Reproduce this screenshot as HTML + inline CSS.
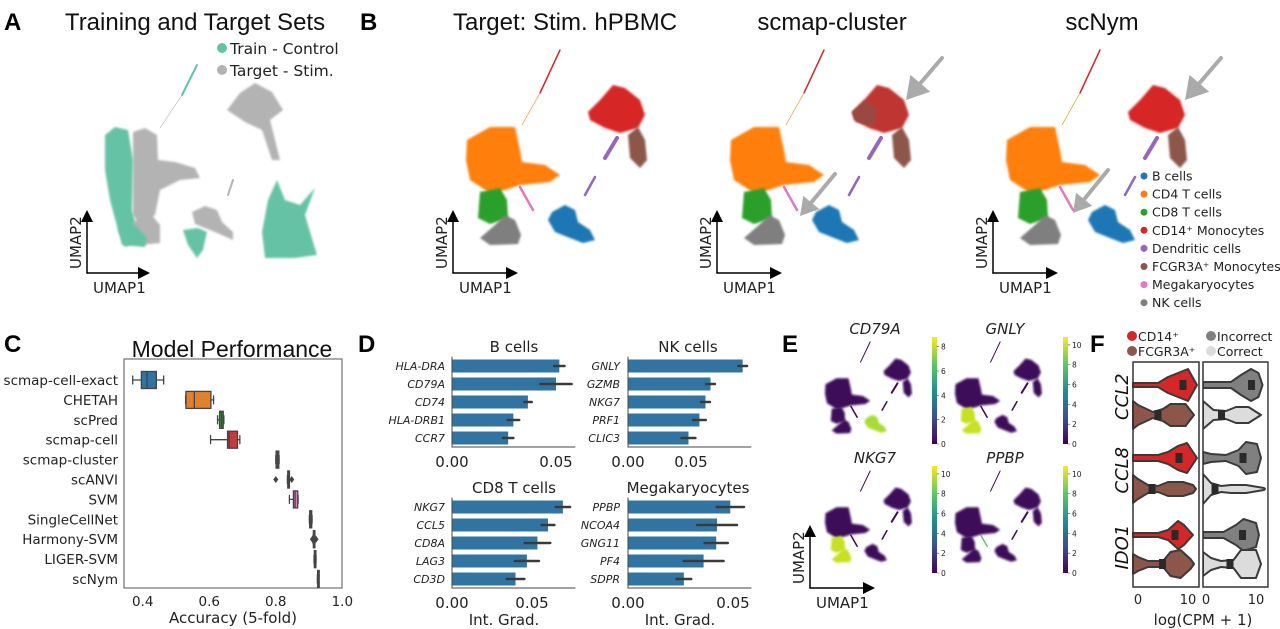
<!DOCTYPE html>
<html><head><meta charset="utf-8"><title>scNym figure</title>
<style>
body{margin:0;background:#fff;}
svg{display:block;font-family:"DejaVu Sans","Liberation Sans",sans-serif;}
</style></head>
<body>
<svg id="fig" width="1280" height="629" viewBox="0 0 1280 629" xmlns="http://www.w3.org/2000/svg">
<defs>
<filter id="fuzz" x="-10%" y="-10%" width="120%" height="120%"><feGaussianBlur stdDeviation="1.1"/></filter>
<linearGradient id="viridis" x1="0" y1="1" x2="0" y2="0">
<stop offset="0" stop-color="#440154"/><stop offset="0.25" stop-color="#3b528b"/><stop offset="0.5" stop-color="#21918c"/><stop offset="0.75" stop-color="#5ec962"/><stop offset="1" stop-color="#fde725"/>
</linearGradient>
</defs>
<g id="root"></g>
</svg>
<script>
// ---------- Panel C data ----------
const methods = ["scmap-cell-exact","CHETAH","scPred","scmap-cell","scmap-cluster","scANVI","SVM","SingleCellNet","Harmony-SVM","LIGER-SVM","scNym"];
const accWhiskLo = [0.370,0.529,0.625,0.604,0.800,0.835,0.841,0.901,0.912,0.915,0.925];
const accQ1      = [0.396,0.530,0.631,0.655,0.801,0.836,0.853,0.902,0.913,0.916,0.926];
const accMedian  = [0.413,0.555,0.637,0.660,0.805,0.838,0.858,0.904,0.915,0.918,0.927];
const accQ3      = [0.441,0.605,0.642,0.685,0.809,0.841,0.866,0.908,0.917,0.920,0.928];
const accWhiskHi = [0.463,0.613,0.644,0.692,0.810,0.841,0.867,0.909,0.918,0.921,0.929];
const accOutliers = [[],[],[],[],[],[0.800,0.848],[],[],[0.910,0.921],[],[]];
const accTicks = [0.4,0.6,0.8,1.0];
// ---------- Panel D data ----------
const igTitles = ["B cells","NK cells","CD8 T cells","Megakaryocytes"];
const igGenes = [["HLA-DRA","CD79A","CD74","HLA-DRB1","CCR7"],["GNLY","GZMB","NKG7","PRF1","CLIC3"],["NKG7","CCL5","CD8A","LAG3","CD3D"],["PPBP","NCOA4","GNG11","PF4","SDPR"]];
const igValues = [[0.0516,0.0500,0.0365,0.0295,0.0270],[0.0910,0.0655,0.0615,0.0567,0.0480],[0.0693,0.0600,0.0534,0.0468,0.0397],[0.0487,0.0424,0.0420,0.0360,0.0266]];
const igErr = [[0.0025,0.0075,0.0018,0.0028,0.0025],[0.0035,0.0035,0.0035,0.0050,0.0055],[0.0045,0.0040,0.0080,0.0075,0.0055],[0.0065,0.0095,0.0055,0.0095,0.0035]];
const igTicks = [0.00,0.05];
// ---------- Panel F data ----------
const violinGenes = ["CCL2","CCL8","IDO1"];
const violinLeft = [
 [[-1,2],[4,2],[6,8],[8.5,13],[10,16],[11.8,0]],
 [[-1,14],[0,10],[3,3],[5,6],[6.5,11],[9.5,11],[11.2,0]],
 [[-1,3],[4,3],[6,6],[8,12],[9.8,15],[11.8,0]],
 [[-1,14],[0,10],[2,4],[4,3],[6,7],[9,7],[11,4],[11.6,0]],
 [[-1,2],[4,2],[6,5],[8,14],[9.2,10],[11,0]],
 [[-1,10],[0,7],[2,3],[5,3],[6.5,12],[8.5,14],[10.5,5],[11.2,0]]];
const violinLeftMed = [9.0,4.0,8.2,2.8,7.4,4.9];
const violinRight = [
 [[-0.6,3],[5,3],[7,10],[9,16],[10.5,12],[11.3,0]],
 [[-0.6,14],[1.5,5],[4,4],[6,8],[8.5,8],[11,0]],
 [[-0.6,6],[1,4],[4,3],[6.5,8],[8,16],[10.2,14],[11,0]],
 [[-0.6,15],[1,6],[3,3],[5,4],[8,4],[11.6,1],[11.8,0]],
 [[-0.6,3],[3.5,3],[6,10],[7.5,16],[10,12],[10.6,0]],
 [[-0.6,12],[1,6],[3,3],[5.5,4],[7,14],[10,14],[11,0]]];
const violinRightMed = [9.1,3.1,7.4,1.8,7.3,4.8];

const NS="http://www.w3.org/2000/svg";
const root=document.getElementById('root');
function mk(tag,attrs,parent){const e=document.createElementNS(NS,tag);for(const k in attrs)e.setAttribute(k,attrs[k]);(parent||root).appendChild(e);return e;}
function txt(s,x,y,size,opts,parent){opts=opts||{};const t=mk('text',{x:x,y:y,'font-size':size,fill:opts.fill||'#222','text-anchor':opts.anchor||'start'},parent);
 if(opts.italic)t.setAttribute('font-style','italic');if(opts.bold)t.setAttribute('font-weight','bold');if(opts.family)t.setAttribute('font-family',opts.family);if(opts.transform)t.setAttribute('transform',opts.transform);t.textContent=s;return t;}

// ---------- panel letters & titles ----------
const letters=[["A",4,30],["B",360,30],["C",4,352],["D",358,352],["E",782,352],["F",1090,352]];
letters.forEach(l=>{const t=txt(l[0],l[1],l[2],24,{bold:true,fill:'#000',family:'"Liberation Sans",sans-serif'});
 
 });
const titles=[["Training and Target Sets",195,30,24],["Target: Stim. hPBMC",565,30,24],["scmap-cluster",832,30,24],["scNym",1102,30,24],["Model Performance",232,357,23]];
titles.forEach(a=>{const t=txt(a[0],a[1],a[2],a[3],{anchor:'middle',fill:'#111',family:'"Liberation Sans",sans-serif'});
 
 });

// ---------- UMAP shapes (reference panel coordinates) ----------
const shapes={
 orange:[[467,140],[490,127],[515,127],[520,150],[522,162],[545,165],[560,175],[550,182],[520,185],[505,190],[490,193],[470,180],[466,160]],
 green:[[480,192],[500,188],[507,200],[508,218],[490,224],[478,218]],
 gray:[[480,238],[495,225],[505,215],[515,220],[521,235],[518,244],[490,245]],
 blue:[[552,212],[565,205],[575,210],[578,222],[590,230],[595,240],[583,243],[570,238],[555,232],[548,220]],
 red:[[588,112],[600,100],[613,85],[625,88],[640,100],[645,115],[638,128],[620,133],[605,128],[590,120]],
 brown:[[628,135],[638,127],[645,140],[647,160],[640,168],[630,158]]};
const cols={blue:'#1f77b4',orange:'#ff7f0e',green:'#2ca02c',red:'#d62728',purple:'#9467bd',brown:'#8c564b',pink:'#e377c2',gray:'#7f7f7f'};
function poly(pts,fx,fy,fill,parent){return mk('polygon',{points:pts.map(p=>fx(p[0])+','+fy(p[1])).join(' '),fill:fill,filter:'url(#fuzz)'},parent);}
function line(x1,y1,x2,y2,stroke,w,parent){return mk('line',{x1:x1,y1:y1,x2:x2,y2:y2,stroke:stroke,'stroke-width':w,'stroke-linecap':'round'},parent);}

function umap(dx,name,colorFn){
 const g=mk('g',{});
 
 
 const fx=x=>x+dx, fy=y=>y;
 for(const k in shapes){const p=poly(shapes[k],fx,fy,colorFn(k),g);
  
  }
 line(fx(605),158,fx(617),138,colorFn('purple'),4,g);
 line(fx(585),195,fx(595),177,colorFn('purple'),2.5,g);
 line(fx(520),187,fx(533),210,colorFn('pink'),2.5,g);
 line(fx(560),50,fx(540),93,colorFn('red'),1.5,g);
 line(fx(540),93,fx(522),125,colorFn('orange'),0.6,g);
 return g;}
umap(0,'umap-target',k=>cols[k]);
umap(264,'umap-scmap-cluster',k=>k==='red'?'#bf3430':cols[k]);
umap(540,'umap-scnym',k=>cols[k]);
const patch=poly([[852,112],[865,100],[876,108],[874,126],[856,122]],x=>x,y=>y,'#9a4a42');



// Panel A
(function(){
 const g=mk('g',{});
 
 
 const teal='#66c2a5', gr='#b3b3b3';
 const A=[
 [gr,[[133,132],[145,128],[157,135],[158,160],[175,162],[195,168],[200,178],[180,180],[160,190],[155,215],[140,225],[133,215]]],
 [teal,[[105,135],[115,127],[128,130],[133,160],[132,210],[140,240],[125,247],[118,230],[110,200],[105,170]]],
 [gr,[[133,222],[150,213],[160,225],[160,243],[140,245]]],
 [teal,[[118,228],[135,225],[147,238],[145,247],[122,245]]],
 [gr,[[227,110],[240,93],[255,83],[272,92],[283,110],[270,120],[275,140],[280,160],[272,160],[262,130],[245,122]]],
 [gr,[[192,212],[205,206],[217,210],[222,222],[233,232],[233,240],[215,232],[195,224]]],
 [teal,[[183,230],[198,228],[207,232],[203,250],[197,258],[188,245]]],
 [teal,[[262,232],[268,200],[277,180],[285,200],[300,205],[315,188],[305,215],[317,255],[295,258],[265,258]]]];
 A.forEach(a=>{const p=poly(a[1],x=>x,y=>y,a[0],g);
  
  });
 line(197,65,182,95,teal,2,g);line(182,95,160,128,gr,0.6,g);
 line(233,180,228,195,gr,2,g);
 const l1=mk('circle',{cx:222,cy:48,r:5,fill:teal});
 
 
 const l2=mk('circle',{cx:222,cy:70,r:5,fill:gr});
 
 
 const t1=txt('Train - Control',230,54,15.5,{fill:'#222'});
 
 
 const t2=txt('Target - Stim.',230,76,15.5,{fill:'#222'});
 
 
})();

// UMAP axes arrows
function umapAxes(x,y0,y1,x1,labSize){
 const g=mk('g',{});
 
 
 line(x,y1,x,y0+8,'#000',1.5,g);line(x,y1,x1-8,y1,'#000',1.5,g);
 mk('polygon',{points:`${x-6},${y0+10} ${x+6},${y0+10} ${x},${y0-2}`,fill:'#000'},g);
 mk('polygon',{points:`${x-10+x1-x},${y1-6} ${x1-10},${y1+6} ${x1+2},${y1}`,fill:'#000'},g);
 txt('UMAP2',x-6,y1-4,labSize,{transform:`rotate(-90 ${x-6} ${y1-4})`,fill:'#222'},g);
 txt('UMAP1',x+6,y1+20,labSize,{fill:'#222'},g);}
umapAxes(87,212,273,148,15);
umapAxes(453,212,273,516,15);
umapAxes(717,212,273,780,15);
umapAxes(993,212,273,1056,15);
umapAxes(810,527,588,873,15);

// gray arrows
[[942,58,906,100],[835,174,800,216],[1221,58,1185,100],[1108,170,1073,213]].forEach(a=>{
 const g=mk('g',{});
 
 
 const dx=a[2]-a[0],dy=a[3]-a[1],L=Math.hypot(dx,dy),ux=dx/L,uy=dy/L,big=a[1]<100?1:0.8;
 const hb=[a[2]-ux*22*big,a[3]-uy*22*big];
 line(a[0],a[1],hb[0],hb[1],'#aaa',4,g);
 mk('polygon',{points:`${a[2]},${a[3]} ${hb[0]-uy*13*big},${hb[1]+ux*13*big} ${hb[0]+uy*13*big},${hb[1]-ux*13*big}`,fill:'#aaa'},g);});

// cell type legend
const ctNames=["B cells","CD4 T cells","CD8 T cells","CD14\u207A Monocytes","Dendritic cells","FCGR3A\u207A Monocytes","Megakaryocytes","NK cells"];
const ctCols=['blue','orange','green','red','purple','brown','pink','gray'];
ctNames.forEach((n,i)=>{const y=176+i*18.1;
 const c=mk('circle',{cx:1144,cy:y,r:3.5,fill:cols[ctCols[i]]});
 
 
 const t=txt(n,1152,y+4.5,12.5,{});
 
 });

// ---------- Panel C boxplot ----------
const boxCols=['#3274a1','#e1812c','#3a923a','#c03d3e','#9372b2','#845b53','#d684bd','#7f7f7f','#a9aa35','#2eb4c5','#3274a1'];
const cx0=124,cx1=342,cy0=359,cy1=588;
const xC=v=>142.7+(v-0.4)*332.7;
const yC=i=>380+i*19.9;
(function(){
 const frame=mk('rect',{x:cx0,y:cy0,width:cx1-cx0,height:cy1-cy0,fill:'none',stroke:'#555','stroke-width':1});
 
 
 methods.forEach((m,i)=>{const y=yC(i);
  const lab=txt(m,118,y+5,13.5,{anchor:'end'});
  
  
  const g=mk('g',{});
  
  
  line(xC(accWhiskLo[i]),y,xC(accQ1[i]),y,'#444',1.3,g);
  line(xC(accQ3[i]),y,xC(accWhiskHi[i]),y,'#444',1.3,g);
  line(xC(accWhiskLo[i]),y-4,xC(accWhiskLo[i]),y+4,'#444',1.3,g);
  line(xC(accWhiskHi[i]),y-4,xC(accWhiskHi[i]),y+4,'#444',1.3,g);
  mk('rect',{x:xC(accQ1[i]),y:y-8.5,width:Math.max(1.5,xC(accQ3[i])-xC(accQ1[i])),height:17,fill:boxCols[i],stroke:'#444','stroke-width':1.3},g);
  line(xC(accMedian[i]),y-8.5,xC(accMedian[i]),y+8.5,'#444',1.3,g);
  accOutliers[i].forEach(o=>{mk('path',{d:`M${xC(o)-2.5},${y} L${xC(o)},${y-3.5} L${xC(o)+2.5},${y} L${xC(o)},${y+3.5}Z`,fill:'#444'},g);});
 });
 accTicks.forEach(t=>{const tl=txt(t.toFixed(1),xC(t),606,13.5,{anchor:'middle'});
  
  });
 const xt=txt('Accuracy (5-fold)',233,623,15,{anchor:'middle'});
 
 
})();

// ---------- Panel D bar charts ----------
const subs=[{x0:452,per:104/0.05,xe:575,y0:366,yb:447,lx:445,tx:514,ty:352},
 {x0:628,per:63/0.05,xe:751,y0:366,yb:447,lx:620,tx:688,ty:352},
 {x0:452,per:80/0.05,xe:575,y0:507,yb:588,lx:445,tx:514,ty:493},
 {x0:628,per:105/0.05,xe:751,y0:507,yb:588,lx:620,tx:688,ty:493}];
subs.forEach((s,k)=>{
 const g=mk('g',{});
 
 
 const xs=v=>s.x0+v*s.per;
 const tt=txt(igTitles[k],s.tx,s.ty,15,{anchor:'middle'},g);
 
 
 igGenes[k].forEach((gname,i)=>{const y=s.y0+i*18;
  const b=mk('rect',{x:s.x0,y:y-6.5,width:xs(igValues[k][i])-s.x0,height:13,fill:'#3274a1'},g);
  
  
  const e=line(xs(igValues[k][i]-igErr[k][i]),y,xs(igValues[k][i]+igErr[k][i]),y,'#3a3a3a',2.5,g);
  
  
  const l=txt(gname,s.lx,y+4,11,{anchor:'end',italic:true},g);
  
  });
 line(s.x0,s.y0-9,s.x0,s.yb,'#444',1,g);line(s.x0,s.yb,s.xe,s.yb,'#444',1,g);
 igTicks.forEach(t=>{const tl=txt(t.toFixed(2),xs(t),s.yb+20,15,{anchor:'middle'},g);
  
  });
 if(k>=2){const xt=txt('Int. Grad.',s.x0+52,625,15,{anchor:'middle'},g);
  
  }
});

// ---------- Panel E expression UMAPs ----------
const eGenes=["CD79A","GNLY","NKG7","PPBP"];
const eMax=[8,10,10,10];
const eHi=[['blue'],['green','gray'],['green','gray'],[]];
[[825,342,875,334,932],[955,342,1005,334,1063],[825,471,875,463,932],[955,471,1005,463,1063]].forEach((o,k)=>{
 const g=mk('g',{});
 
 
 const fx=x=>o[0]+(x-466)*0.48, fy=y=>o[1]+(y-50)*0.47;
 for(const c in shapes){const hi=eHi[k].includes(c);
  const p=poly(shapes[c],fx,fy,hi?(c==='blue'?'#a8db34':'#c8e020'):'#3d0a5a',g);
  
  }
 line(fx(605),fy(158),fx(617),fy(138),'#3d0a5a',2,g);
 line(fx(585),fy(195),fx(595),fy(177),'#3d0a5a',1.5,g);
 line(fx(520),fy(187),fx(533),fy(210),k===3?'#5ec962':'#3d0a5a',1.5,g);
 line(fx(560),fy(50),fx(540),fy(93),'#3d0a5a',1,g);
 const tt=txt(eGenes[k],o[2],o[3],15,{anchor:'middle',italic:true},g);
 
 
 const cbx=o[4], cy0=o[1]-5, cy1=o[1]+102;
 const cb=mk('rect',{x:cbx,y:cy0,width:5,height:cy1-cy0,fill:'url(#viridis)'},g);
 
 
 for(let v=0;v<=eMax[k];v+=2){const yy=cy1-(v/(eMax[k]+0.8))*(cy1-cy0);
  line(cbx+5,yy,cbx+7,yy,'#444',0.6,g);
  const tl=txt(String(v),cbx+9,yy+3,7.5,{},g);
  
  }
});

// ---------- Panel F violins ----------
const rowsY=[385,415,458,489,535,564];
const fillsL=['#d62728','#8c564b'], fillsR=['#808080','#dcdcdc'];
function drawViolins(prof,meds,x0,fills,name){
 const xs=v=>x0+v*5;
 prof.forEach((p,i)=>{const y=rowsY[i];
  const top=p.map(q=>xs(q[0])+','+(y-q[1])).join(' L');
  const bot=p.slice().reverse().map(q=>xs(q[0])+','+(y+q[1])).join(' L');
  const v=mk('path',{d:'M'+top+' L'+bot+'Z',fill:fills[i%2],stroke:'#3a3a3a','stroke-width':2,'stroke-linejoin':'round'});
  
  
  const m=mk('rect',{x:xs(meds[i])-3.5,y:y-5,width:7,height:10,fill:'#2a2a2a'});
  
  });}
drawViolins(violinLeft,violinLeftMed,1138,fillsL,'cell-type');
drawViolins(violinRight,violinRightMed,1206,fillsR,'correctness');
const mL=mk('rect',{x:1199,y:355,width:4,height:240,fill:'#fff'});


[[1133,1199],[1203,1268]].forEach(b=>{const r=mk('rect',{x:b[0],y:362,width:b[1]-b[0],height:225,fill:'none',stroke:'#333','stroke-width':1.5});
 
 });
const vcover=mk('rect',{x:1268.8,y:355,width:12,height:240,fill:'#fff'});


violinGenes.forEach((gn,i)=>{const y=(rowsY[2*i]+rowsY[2*i+1])/2;
 const t=txt(gn,1128,y+20,18,{italic:true,transform:`rotate(-90 1128 ${y+20})`,fill:'#111'});
 
 });
[[1138,'0'],[1188,'10'],[1206,'0'],[1256,'10']].forEach(a=>{const t=txt(a[1],a[0],604,13,{anchor:'middle'});
 
 });
const fx=txt('log(CPM + 1)',1203,625,15,{anchor:'middle'});


[[1132,336,'#d62728','CD14\u207A'],[1132,351,'#8c564b','FCGR3A\u207A'],[1211,336,'#808080','Incorrect'],[1211,351,'#dcdcdc','Correct']].forEach(a=>{
 const c=mk('circle',{cx:a[0],cy:a[1],r:5,fill:a[2]});
 
 
 const t=txt(a[3],a[0]+6,a[1]+5,12.5,{});
 
 });
</script>
</body></html>
